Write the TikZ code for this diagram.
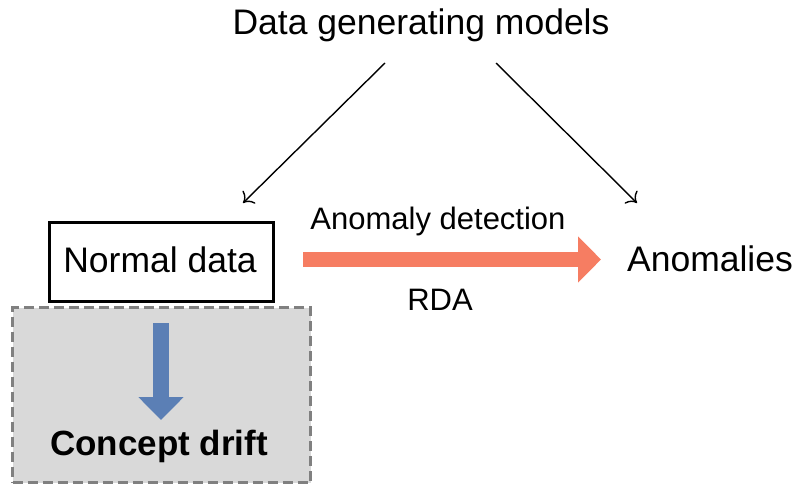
\documentclass[tikz,border=0pt]{standalone}
\usepackage{fontspec}
\setmainfont{Liberation Sans}
\usetikzlibrary{arrows.meta}
\definecolor{driftfill}{RGB}{217,217,217}
\definecolor{driftdash}{RGB}{128,128,128}
\definecolor{blueA}{RGB}{91,127,181}
\definecolor{salmon}{RGB}{246,125,98}
\tikzset{
  lbl/.style={inner sep=0pt, font=\fontsize{35.5}{40}\selectfont},
  small/.style={inner sep=0pt, font=\fontsize{31}{35}\selectfont},
  thin/.style={line width=1.4pt, -{To[length=9pt,width=18pt,line width=1.4pt]}},
}
\begin{document}
\begin{tikzpicture}[x=1pt,y=-1pt]
\useasboundingbox (0,0) rectangle (795,484);
% dashed drift box
\node[draw=driftdash, fill=driftfill, line width=3.2pt, dash pattern=on 10pt off 5pt,
      minimum width=298pt, minimum height=175pt, inner sep=0pt] (driftbox) at (161.5,395) {};
% normal data box
\node[draw=black, line width=3pt, minimum width=224pt, minimum height=79pt, inner sep=0pt] (normal) at (161.5,262) {};
\node[lbl] (normaltxt) at (160,260) {Normal data};
\node[lbl] (models) at (421,25) {Data generating models};
\node[lbl] (anom) at (710,259) {Anomalies};
\node[small] (adet) at (438,221) {Anomaly detection};
\node[small] (rda) at (440,300) {RDA};
\node[font=\bfseries\fontsize{35}{40}\selectfont, inner sep=0pt] (drift) at (159,446) {Concept drift};
% coordinates for connectors
\coordinate (l1) at (385,63);
\coordinate (l2) at (243,203);
\coordinate (r1) at (496,63);
\coordinate (r2) at (637,203);
\coordinate (o1) at (303,259.5);
\coordinate (o2) at (601,259.5);
\coordinate (b1) at (161,323);
\coordinate (b2) at (161,420);
\draw[thin] (l1) -- (l2);
\draw[thin] (r1) -- (r2);
\draw[salmon, line width=15pt, -{Triangle[length=23pt,width=45pt]}] (o1) -- (o2);
\draw[blueA, line width=16pt, -{Triangle[length=23pt,width=44pt]}] (b1) -- (b2);
\end{tikzpicture}
\end{document}
